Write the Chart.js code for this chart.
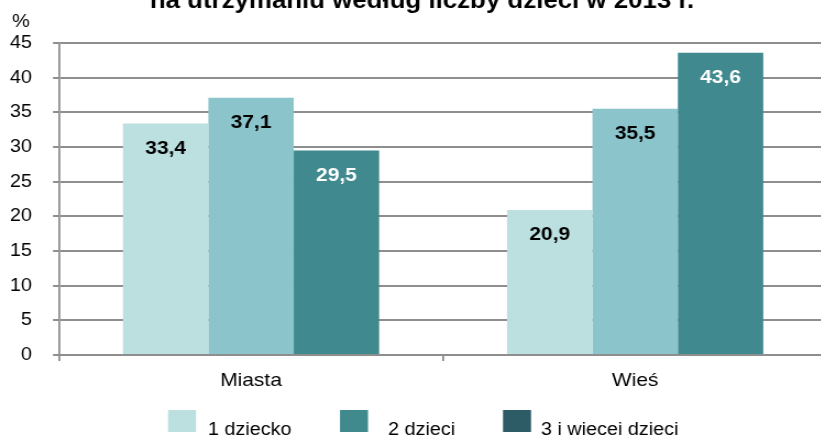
<!DOCTYPE html>
<html>
<head>
<meta charset="utf-8">
<script src="https://cdn.jsdelivr.net/npm/chart.js@4.4.1/dist/chart.umd.min.js"></script>
<style>
  body { margin: 0; background: #fff; overflow: hidden; }
  #wrap { width: 821px; height: 435px; overflow: hidden; }
  #chart { transform: scaleX(1.1); transform-origin: 0 0; }
</style>
</head>
<body>
<div id="wrap"><canvas id="chart" width="755" height="435"></canvas></div>
<script>
// data
const categories = ['Miasta', 'Wieś'];
const seriesNames = ['1 dziecko', '2 dzieci', '3 i więcej dzieci'];
const oneChild = [33.4, 20.9];
const twoChildren = [37.1, 35.5];
const threeMore = [29.5, 43.6];
const yTicks = [0, 5, 10, 15, 20, 25, 30, 35, 40, 45];

const barColors = ['#bcdfe0', '#8bc4cb', '#408a8f'];
const legendColors = ['#bcdfe0', '#408a8e', '#2d5c67'];
const labelColors = ['#000', '#000', '#fff'];
const titleText = 'na utrzymaniu według liczby dzieci w 2013 r.';

const SX = 1.1; // the original picture is a bit stretched sideways
const FONT = '"Liberation Sans", Arial, sans-serif';
const gridGray = '#8e8e8e';

// labels, title, % sign and legend drawn by hand
const extras = {
  id: 'extras',
  afterDatasetsDraw(chart) {
    const ctx = chart.ctx;
    ctx.save();
    ctx.textAlign = 'center';
    ctx.textBaseline = 'middle';
    ctx.font = 'bold 19px ' + FONT;
    chart.data.datasets.forEach((ds, i) => {
      const meta = chart.getDatasetMeta(i);
      meta.data.forEach((bar, j) => {
        ctx.fillStyle = labelColors[i];
        ctx.fillText(ds.data[j].toFixed(1).replace('.', ','), bar.x, bar.y + 25);
      });
    });
    ctx.restore();
  },
  afterDraw(chart) {
    const ctx = chart.ctx;
    ctx.save();
    // title (cut off at the top in the reference)
    ctx.fillStyle = '#000';
    ctx.textAlign = 'center';
    ctx.textBaseline = 'alphabetic';
    ctx.font = 'bold 23.5px ' + FONT;
    ctx.fillText(titleText, 422 / SX, 8);
    // unit
    ctx.font = '18px ' + FONT;
    ctx.fillText('%', 21 / SX, 27);
    // legend
    const boxX = [168, 340, 503];
    const textX = [208, 388, 541];
    ctx.textAlign = 'left';
    ctx.font = '18px ' + FONT;
    seriesNames.forEach((name, i) => {
      ctx.fillStyle = legendColors[i];
      ctx.fillRect(boxX[i] / SX, 410, 28 / SX, 22);
      ctx.fillStyle = '#000';
      ctx.fillText(name, textX[i] / SX, 435);
    });
    ctx.restore();
  }
};

new Chart(document.getElementById('chart'), {
  type: 'bar',
  data: {
    labels: categories,
    datasets: [
      { label: seriesNames[0], data: oneChild, backgroundColor: barColors[0] },
      { label: seriesNames[1], data: twoChildren, backgroundColor: barColors[1] },
      { label: seriesNames[2], data: threeMore, backgroundColor: barColors[2] }
    ]
  },
  options: {
    responsive: false,
    animation: false,
    devicePixelRatio: 1,
    layout: { padding: { top: 43, right: 3, bottom: 0, left: 0 } },
    datasets: { bar: { categoryPercentage: 0.667, barPercentage: 1 } },
    plugins: {
      legend: { display: false },
      title: { display: false },
      tooltip: { enabled: false }
    },
    scales: {
      x: {
        afterFit: scale => { scale.height = 80; },
        grid: { drawOnChartArea: false, drawTicks: true, tickLength: 6, color: gridGray, lineWidth: 1.8 },
        border: { color: gridGray, width: 2 },
        ticks: { color: '#000', font: { family: FONT, size: 19 }, padding: 8 }
      },
      y: {
        min: 0,
        max: 45,
        afterFit: scale => { scale.width = 59 / SX; },
        afterBuildTicks: scale => { scale.ticks = yTicks.map(v => ({ value: v })); },
        grid: { color: gridGray, lineWidth: 2, tickLength: 6 / SX },
        border: { color: gridGray, width: 1.8 },
        ticks: { color: '#000', font: { family: FONT, size: 18 }, padding: 21 / SX }
      }
    }
  },
  plugins: [extras]
});
</script>
</body>
</html>
